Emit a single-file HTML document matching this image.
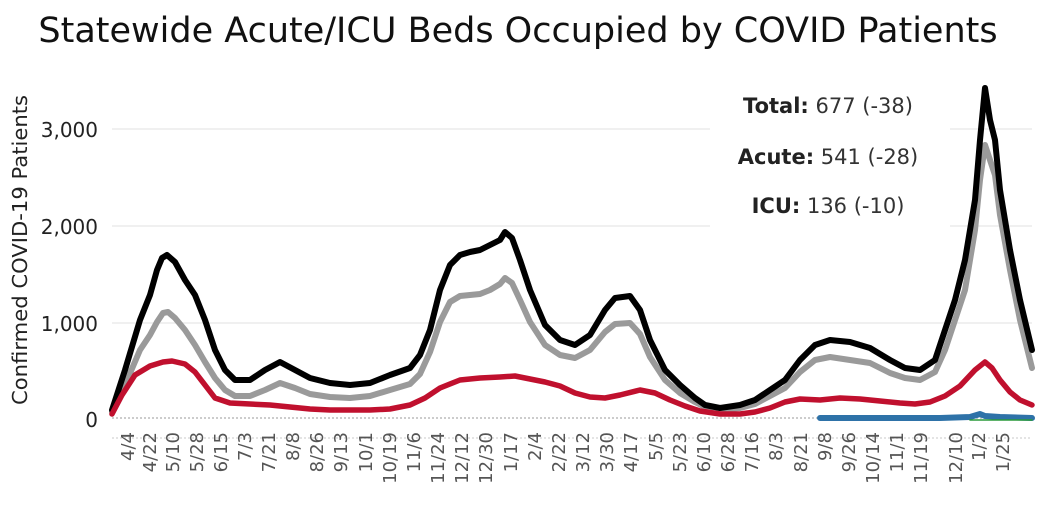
<!DOCTYPE html>
<html><head><meta charset="utf-8"><style>
body{margin:0;background:#fff;}
svg{display:block;font-family:"DejaVu Sans",sans-serif;}
</style></head><body>
<svg width="1049" height="517" viewBox="0 0 1049 517" xmlns="http://www.w3.org/2000/svg">
<rect width="1049" height="517" fill="#fff"/>
<text x="518" y="42" font-size="35" text-anchor="middle" fill="#111">Statewide Acute/ICU Beds Occupied by COVID Patients</text>
<g stroke="#ececec" stroke-width="1.5">
<line x1="112" y1="129" x2="1032" y2="129"/>
<line x1="112" y1="226" x2="1032" y2="226"/>
<line x1="112" y1="323" x2="1032" y2="323"/>
</g>
<line x1="112" y1="418" x2="1032" y2="418" stroke="#bbb" stroke-width="1.5" stroke-dasharray="2,2"/>
<line x1="112" y1="438" x2="1032" y2="438" stroke="#e4e4e4" stroke-width="2" stroke-dasharray="2,2"/>
<g font-size="20" fill="#222" text-anchor="end">
<text x="98" y="137">3,000</text><text x="98" y="234">2,000</text><text x="98" y="331">1,000</text><text x="98" y="427">0</text>
</g>
<text transform="translate(27,250) rotate(-90)" font-size="20" text-anchor="middle" fill="#222" textLength="310" lengthAdjust="spacingAndGlyphs">Confirmed COVID-19 Patients</text>
<rect x="710" y="70" width="240" height="160" fill="#fff"/>
<g font-size="21" fill="#333" text-anchor="middle">
<text x="828" y="113"><tspan font-weight="bold" fill="#222">Total:</tspan> 677 (-38)</text>
<text x="828" y="164"><tspan font-weight="bold" fill="#222">Acute:</tspan> 541 (-28)</text>
<text x="828" y="213"><tspan font-weight="bold" fill="#222">ICU:</tspan> 136 (-10)</text>
</g>
<g fill="none" stroke-linejoin="round" stroke-linecap="round">
<polyline stroke="#9a9a9a" stroke-width="6" points="112,412 125,385 140,350 150,335 157,322 163,313 168,312 175,318 185,330 195,345 205,362 215,378 225,390 235,396 250,396 265,390 280,383 295,388 310,394 330,397 350,398 370,396 390,390 410,384 420,374 430,352 440,322 450,302 460,296 470,295 480,294 490,290 500,284 505,278 512,283 520,300 530,322 545,345 560,355 575,358 590,350 605,332 615,324 630,323 640,334 650,357 665,380 680,393 695,402 705,407 720,410 740,408 755,404 770,396 785,388 800,372 815,360 830,357 850,360 870,363 890,373 905,378 920,380 935,372 945,350 955,320 965,290 975,230 980,180 985,145 990,160 995,175 1000,215 1010,270 1020,320 1032,368"/>
<polyline stroke="#000" stroke-width="6" points="112,410 125,370 140,320 150,295 157,270 162,258 167,255 175,262 185,280 195,295 205,320 215,350 225,370 235,380 250,380 265,370 280,362 295,370 310,378 330,383 350,385 370,383 390,375 410,368 420,355 430,330 440,290 450,265 460,255 470,252 480,250 490,245 500,240 505,232 512,238 520,260 530,290 545,325 560,340 575,345 590,335 605,310 615,298 630,296 640,310 650,340 665,370 680,385 695,398 705,405 720,408 740,405 755,400 770,390 785,380 800,360 815,345 830,340 850,342 870,348 890,360 905,368 920,370 935,360 945,330 955,300 965,260 975,200 980,140 985,88 990,120 995,140 1000,190 1010,250 1020,300 1032,350"/>
<polyline stroke="#c0102e" stroke-width="5.5" points="112,414 122,395 135,375 150,366 163,362 172,361 185,364 195,372 205,385 215,398 230,403 250,404 270,405 290,407 310,409 330,410 350,410 370,410 390,409 410,405 425,398 440,388 460,380 480,378 500,377 515,376 530,379 545,382 560,386 575,393 590,397 605,398 620,395 640,390 655,393 670,400 685,406 700,411 720,414 740,414 755,412 770,408 785,402 800,399 820,400 840,398 860,399 880,401 900,403 915,404 930,402 945,396 960,386 975,370 985,362 992,368 1000,380 1010,392 1020,400 1032,405"/>
<polyline stroke="#2e72a8" stroke-width="6" points="820,418 880,418 940,418 970,417 980,414 985,416 1000,417 1032,418"/>
<polyline stroke="#2a9a3a" stroke-width="1.5" points="970,420 1032,420"/>
</g>
<g font-size="18" fill="#555" text-anchor="end">
<text transform="translate(134,432) rotate(-90)">4/4</text>
<text transform="translate(156,432) rotate(-90)">4/22</text>
<text transform="translate(179,432) rotate(-90)">5/10</text>
<text transform="translate(203,432) rotate(-90)">5/28</text>
<text transform="translate(227,432) rotate(-90)">6/15</text>
<text transform="translate(251,432) rotate(-90)">7/3</text>
<text transform="translate(275,432) rotate(-90)">7/21</text>
<text transform="translate(299,432) rotate(-90)">8/8</text>
<text transform="translate(323,432) rotate(-90)">8/26</text>
<text transform="translate(347,432) rotate(-90)">9/13</text>
<text transform="translate(372,432) rotate(-90)">10/1</text>
<text transform="translate(396,432) rotate(-90)">10/19</text>
<text transform="translate(420,432) rotate(-90)">11/6</text>
<text transform="translate(444,432) rotate(-90)">11/24</text>
<text transform="translate(468,432) rotate(-90)">12/12</text>
<text transform="translate(492,432) rotate(-90)">12/30</text>
<text transform="translate(517,432) rotate(-90)">1/17</text>
<text transform="translate(541,432) rotate(-90)">2/4</text>
<text transform="translate(565,432) rotate(-90)">2/22</text>
<text transform="translate(589,432) rotate(-90)">3/12</text>
<text transform="translate(613,432) rotate(-90)">3/30</text>
<text transform="translate(637,432) rotate(-90)">4/17</text>
<text transform="translate(662,432) rotate(-90)">5/5</text>
<text transform="translate(686,432) rotate(-90)">5/23</text>
<text transform="translate(710,432) rotate(-90)">6/10</text>
<text transform="translate(734,432) rotate(-90)">6/28</text>
<text transform="translate(758,432) rotate(-90)">7/16</text>
<text transform="translate(782,432) rotate(-90)">8/3</text>
<text transform="translate(807,432) rotate(-90)">8/21</text>
<text transform="translate(831,432) rotate(-90)">9/8</text>
<text transform="translate(855,432) rotate(-90)">9/26</text>
<text transform="translate(879,432) rotate(-90)">10/14</text>
<text transform="translate(903,432) rotate(-90)">11/1</text>
<text transform="translate(927,432) rotate(-90)">11/19</text>
<text transform="translate(962,432) rotate(-90)">12/10</text>
<text transform="translate(985,432) rotate(-90)">1/2</text>
<text transform="translate(1009,432) rotate(-90)">1/25</text>
</g>
</svg>
</body></html>
